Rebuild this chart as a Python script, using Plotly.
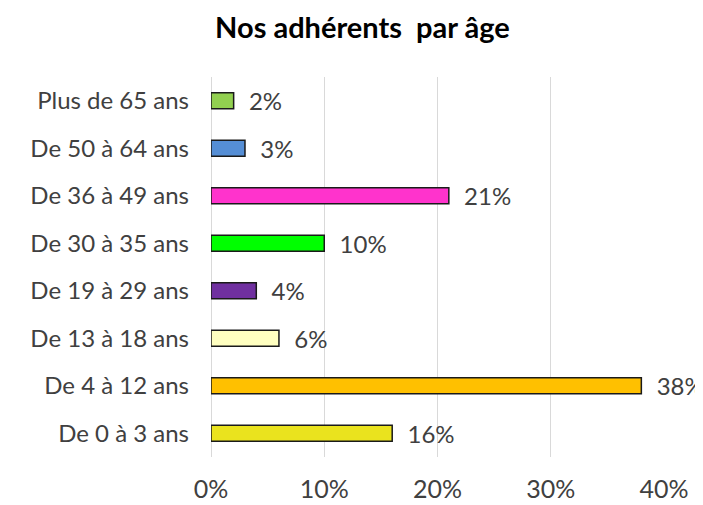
import plotly.graph_objects as go

# Age groups, bottom to top as drawn
categories = [
    "De 0 à 3 ans", "De 4 à 12 ans", "De 13 à 18 ans", "De 19 à 29 ans",
    "De 30 à 35 ans", "De 36 à 49 ans", "De 50 à 64 ans", "Plus de 65 ans",
]
shares = [0.16, 0.38, 0.06, 0.04, 0.10, 0.21, 0.03, 0.02]
bar_colors = ["#EAE31E", "#FFC000", "#FFFFC0", "#7030A0",
              "#00FF00", "#FF33CC", "#558ED5", "#92D050"]
x_ticks = [0, 0.1, 0.2, 0.3, 0.4]

TEXT = "#404040"
GRID = "#D9D9D9"
FONT = "Lato, Carlito, sans-serif"

fig = go.Figure(go.Bar(
    x=shares, y=categories, orientation="h",
    marker=dict(color=bar_colors, line=dict(color="#1A1A1A", width=1.5)),
    texttemplate="\u00a0\u00a0%{x:.0%}", textposition="outside",
    constraintext="none",
    textfont=dict(color=TEXT, size=24, family=FONT),
    cliponaxis=False,
))

# page body has an 8px default margin, so the figure is sized to fit
fig.update_layout(
    width=695, height=497,
    paper_bgcolor="white", plot_bgcolor="white",
    font=dict(family=FONT, color=TEXT, size=24),
    title=dict(text="<b>Nos adhérents  par âge</b>", x=0.51, xanchor="center",
               y=0.96, yanchor="middle", font=dict(size=29, color="#000000", family=FONT)),
    margin=dict(l=203, r=39, t=69, b=48),
    bargap=0.66,
    showlegend=False,
    xaxis=dict(range=[0, 0.4], tickvals=x_ticks, tickformat=".0%",
               showgrid=True, gridcolor=GRID, gridwidth=1,
               zeroline=True, zerolinecolor=GRID, zerolinewidth=1,
               showline=False, ticks="", ticklabelstandoff=15, automargin=False,
               tickfont=dict(size=25, color=TEXT)),
    yaxis=dict(showgrid=False, showline=False, ticks="", ticklabelstandoff=21,
               automargin=False, tickfont=dict(size=24, color=TEXT)),
)

fig.write_html("out.html")
